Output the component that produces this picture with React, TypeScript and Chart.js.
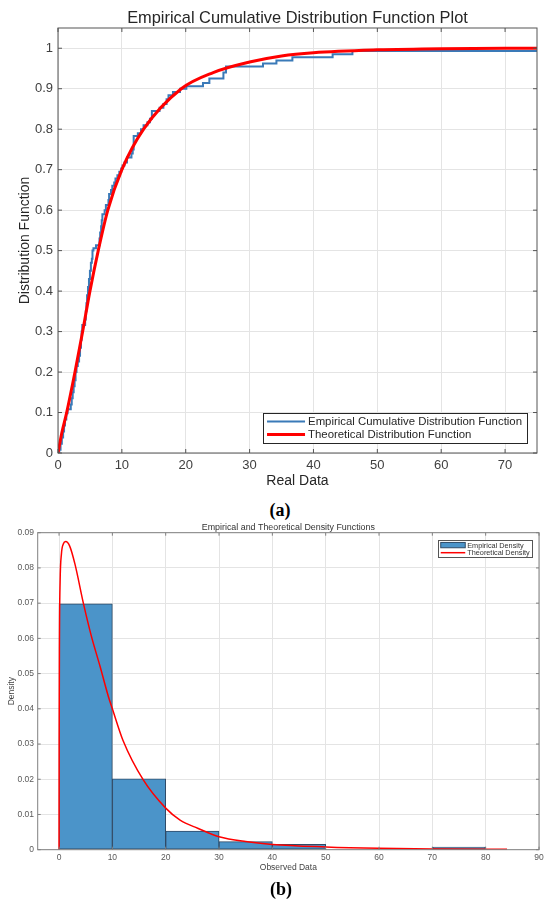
import { useEffect, useRef } from 'react';
import { Chart, registerables } from 'chart.js';

Chart.register(...registerables);

const FONT = '"Liberation Sans", Arial, Helvetica, sans-serif';

// ---------- (a) Empirical CDF vs theoretical CDF ----------
const ecdfX = [0, 0.2, 0.4, 0.6, 0.8, 0.95, 1.1, 1.3, 1.5, 2.0, 2.15, 2.3, 2.45, 2.6, 2.75, 2.9, 3.1, 3.3, 3.45, 3.6, 3.7, 3.8, 4.25, 4.35, 4.45, 4.55, 4.7, 4.85, 5.0, 5.15, 5.3, 5.4, 5.55, 5.95, 6.5, 6.6, 6.75, 6.85, 6.95, 7.3, 7.5, 7.9, 8.0, 8.3, 8.5, 8.8, 9.0, 9.3, 9.6, 9.9, 10.1, 10.4, 10.8, 11.5, 11.7, 11.85, 12.5, 13.0, 13.4, 14.0, 14.4, 14.7, 15.9, 16.5, 17.0, 17.3, 18.0, 19.1, 20.1, 22.7, 23.7, 25.9, 26.3, 32.1, 34.2, 36.7, 43.0, 46.1, 77];
const ecdfY = [0, 0.008, 0.023, 0.038, 0.053, 0.068, 0.083, 0.098, 0.108, 0.12, 0.135, 0.15, 0.165, 0.18, 0.2, 0.215, 0.226, 0.24, 0.26, 0.28, 0.3, 0.316, 0.33, 0.35, 0.37, 0.39, 0.41, 0.43, 0.45, 0.47, 0.48, 0.5, 0.506, 0.513, 0.53, 0.545, 0.56, 0.575, 0.59, 0.6, 0.613, 0.625, 0.64, 0.65, 0.66, 0.668, 0.678, 0.686, 0.695, 0.703, 0.71, 0.718, 0.73, 0.74, 0.75, 0.783, 0.79, 0.8, 0.81, 0.817, 0.826, 0.845, 0.853, 0.862, 0.874, 0.884, 0.892, 0.9, 0.906, 0.914, 0.925, 0.94, 0.955, 0.962, 0.97, 0.978, 0.985, 0.993, 1.0];

const cdfX = [0, 0.6, 1.36, 2.66, 3.86, 5.0, 6.3, 7.8, 10, 13.4, 19.3, 24.3, 30, 35, 40, 50, 60, 75];
const cdfY = [0, 0.05, 0.1, 0.2, 0.3, 0.4, 0.5, 0.6, 0.7, 0.8, 0.9, 0.94, 0.966, 0.981, 0.989, 0.996, 0.999, 1.0];

const xTicksA = [0, 10, 20, 30, 40, 50, 60, 70];
const yTicksA = [0, 0.1, 0.2, 0.3, 0.4, 0.5, 0.6, 0.7, 0.8, 0.9, 1];
const yTickLabelsA = ['0', '0.1', '0.2', '0.3', '0.4', '0.5', '0.6', '0.7', '0.8', '0.9', '1'];

// ---------- (b) Histogram density vs theoretical density ----------
const binLeft = [0, 10, 20, 30, 40, 50, 60, 70];
const binWidth = 10;
const binDensity = [0.0698, 0.0201, 0.0053, 0.0023, 0.0015, 0, 0, 0.00077];

const pdfX = [0, 0.02, 0.08, 0.2, 0.45, 0.8, 1.25, 2, 3, 4.56, 6, 7.7, 9.25, 10, 12, 15.8, 20, 22.7, 26, 30, 35, 40, 50, 60, 70, 84];
const pdfY = [0, 0.03, 0.06, 0.076, 0.084, 0.0868, 0.0875, 0.0862, 0.081, 0.07, 0.061, 0.052, 0.0435, 0.04, 0.031, 0.0198, 0.0118, 0.0084, 0.0061, 0.0037, 0.0023, 0.0015, 0.0008, 0.0004, 0.0002, 0.0001];

const xTicksB = [0, 10, 20, 30, 40, 50, 60, 70, 80, 90];
const yTicksB = [0, 0.01, 0.02, 0.03, 0.04, 0.05, 0.06, 0.07, 0.08, 0.09];
const yTickLabelsB = ['0', '0.01', '0.02', '0.03', '0.04', '0.05', '0.06', '0.07', '0.08', '0.09'];

const BLUE_LINE = '#3a7ab8';
const RED = '#ff0000';
const BAR_FILL = '#4b94c9';
const BAR_EDGE = '#2f4a66';

// Title centred over the plot area (as MATLAB does)
const plotTitlePlugin = {
  id: 'plotTitle',
  afterDraw(chart: any, _args: any, o: any) {
    const { ctx, chartArea: a } = chart;
    ctx.save();
    ctx.font = `${o.fontSize}px ${FONT}`;
    ctx.fillStyle = o.color;
    ctx.textAlign = 'center';
    ctx.textBaseline = 'alphabetic';
    ctx.fillText(o.text, (a.left + a.right) / 2, o.baseline);
    ctx.restore();
  },
};

const framePlugin = {
  id: 'matlabFrame',
  afterDatasetsDraw(chart: any, _args: any, o: any) {
    const { ctx, chartArea: a, scales } = chart;
    ctx.save();
    ctx.strokeStyle = o.color;
    ctx.lineWidth = o.lineWidth;
    ctx.beginPath();
    const tl = o.tickLen;
    scales.x.ticks.forEach((t: any) => {
      const px = scales.x.getPixelForValue(t.value);
      ctx.moveTo(px, a.bottom);
      ctx.lineTo(px, a.bottom - tl);
      ctx.moveTo(px, a.top);
      ctx.lineTo(px, a.top + tl);
    });
    scales.y.ticks.forEach((t: any) => {
      const py = scales.y.getPixelForValue(t.value);
      ctx.moveTo(a.left, py);
      ctx.lineTo(a.left + tl, py);
      ctx.moveTo(a.right, py);
      ctx.lineTo(a.right - tl, py);
    });
    ctx.stroke();
    ctx.strokeRect(a.left, a.top, a.right - a.left, a.bottom - a.top);
    ctx.restore();
  },
};

const boxLegendPlugin = {
  id: 'boxLegend',
  afterDraw(chart: any, _args: any, o: any) {
    const { ctx, chartArea: a } = chart;
    const datasets = chart.data.datasets;
    ctx.save();
    ctx.font = `${o.fontSize}px ${FONT}`;
    const textW = Math.max(...datasets.map((d: any) => ctx.measureText(d.label).width));
    const w = o.padLeft + o.sampleLen + o.gap + textW + o.padRight;
    const h = o.padY * 2 + o.rowH * datasets.length;
    const x = a.right - o.right - w;
    const y = o.anchor === 'bottom' ? a.bottom - o.offsetY - h : a.top + o.offsetY;
    ctx.fillStyle = '#ffffff';
    ctx.fillRect(x, y, w, h);
    ctx.strokeStyle = o.borderColor;
    ctx.lineWidth = 1;
    ctx.strokeRect(Math.round(x) + 0.5, Math.round(y) + 0.5, Math.round(w), Math.round(h));
    datasets.forEach((d: any, i: number) => {
      const cy = y + o.padY + o.rowH * (i + 0.5);
      const sx = x + o.padLeft;
      if (d.type === 'bar') {
        ctx.fillStyle = d.backgroundColor;
        ctx.fillRect(sx, cy - o.patchH / 2, o.sampleLen, o.patchH);
        ctx.strokeStyle = d.borderColor;
        ctx.lineWidth = 1;
        ctx.strokeRect(sx, cy - o.patchH / 2, o.sampleLen, o.patchH);
      } else {
        ctx.strokeStyle = d.borderColor;
        ctx.lineWidth = d.borderWidth;
        ctx.beginPath();
        ctx.moveTo(sx, cy);
        ctx.lineTo(sx + o.sampleLen, cy);
        ctx.stroke();
      }
      ctx.fillStyle = o.textColor;
      ctx.textBaseline = 'middle';
      ctx.textAlign = 'left';
      ctx.fillText(d.label, sx + o.sampleLen + o.gap, cy + 0.5);
    });
    ctx.restore();
  },
};

function makeConfigA(): any {
  return {
    type: 'line',
    data: {
      datasets: [
        {
          type: 'line',
          label: 'Empirical Cumulative Distribution Function',
          data: ecdfX.map((x, i) => ({ x, y: ecdfY[i] })),
          stepped: 'before',
          borderColor: BLUE_LINE,
          borderWidth: 2,
          pointRadius: 0,
          fill: false,
          order: 1,
        },
        {
          type: 'line',
          label: 'Theoretical Distribution Function',
          data: cdfX.map((x, i) => ({ x, y: cdfY[i] })),
          borderColor: RED,
          borderWidth: 3,
          pointRadius: 0,
          fill: false,
          cubicInterpolationMode: 'monotone',
          order: 0,
        },
      ],
    },
    options: {
      animation: false,
      responsive: true,
      maintainAspectRatio: false,
      events: [],
      layout: { padding: { left: 0, right: 13, top: 28, bottom: 0 } },
      plugins: {
        legend: { display: false },
        tooltip: { enabled: false },
        title: { display: false },
        plotTitle: { text: 'Empirical Cumulative Distribution Function Plot', fontSize: 16.4, color: '#262626', baseline: 22.5 },
        matlabFrame: { color: '#555555', lineWidth: 1, tickLen: 4 },
        boxLegend: {
          anchor: 'bottom', right: 10, offsetY: 10, fontSize: 11.4, rowH: 13, padY: 2,
          padLeft: 4, sampleLen: 38, gap: 3, padRight: 5, patchH: 6,
          borderColor: '#262626', textColor: '#262626',
        },
      },
      scales: {
        x: {
          type: 'linear',
          min: 0,
          max: 75,
          afterBuildTicks: (s: any) => { s.ticks = xTicksA.map((v) => ({ value: v })); },
          afterFit: (s: any) => { s.height = 47; },
          grid: { color: '#e4e4e4', lineWidth: 1, drawTicks: false },
          border: { display: false },
          ticks: { color: '#404040', font: { family: FONT, size: 13 }, padding: 5, maxRotation: 0, autoSkip: false },
          title: { display: true, text: 'Real Data', color: '#262626', font: { family: FONT, size: 14 }, padding: { top: 0, bottom: 10 } },
        },
        y: {
          type: 'linear',
          min: 0,
          max: 1.05,
          afterBuildTicks: (s: any) => { s.ticks = yTicksA.map((v) => ({ value: v })); },
          afterFit: (s: any) => { s.width = 58; },
          grid: { color: '#e4e4e4', lineWidth: 1, drawTicks: false },
          border: { display: false },
          ticks: { color: '#404040', font: { family: FONT, size: 13 }, padding: 5, autoSkip: false, callback: (_v: any, i: number) => yTickLabelsA[i] },
          title: { display: true, text: 'Distribution Function', color: '#262626', font: { family: FONT, size: 14 }, padding: { top: 16.6, bottom: 0 } },
        },
      },
    },
    plugins: [framePlugin, boxLegendPlugin, plotTitlePlugin],
  };
}

function makeConfigB(): any {
  const bars = binLeft
    .map((l, i) => ({ x: l + binWidth / 2, y: binDensity[i] }))
    .filter((p) => p.y > 0);
  return {
    type: 'bar',
    data: {
      datasets: [
        {
          type: 'bar',
          label: 'Empirical Density',
          data: bars,
          backgroundColor: BAR_FILL,
          borderColor: BAR_EDGE,
          borderWidth: 1,
          borderSkipped: false,
          barPercentage: 1,
          categoryPercentage: 1,
          order: 1,
        },
        {
          type: 'line',
          label: 'Theoretical Density',
          data: pdfX.map((x, i) => ({ x, y: pdfY[i] })),
          borderColor: RED,
          borderWidth: 1.5,
          pointRadius: 0,
          fill: false,
          cubicInterpolationMode: 'monotone',
          order: 0,
        },
      ],
    },
    options: {
      animation: false,
      responsive: true,
      maintainAspectRatio: false,
      events: [],
      layout: { padding: { left: 0, right: 11, top: 17.7, bottom: 0 } },
      plugins: {
        legend: { display: false },
        tooltip: { enabled: false },
        title: { display: false },
        plotTitle: { text: 'Empirical and Theoretical Density Functions', fontSize: 8.9, color: '#333333', baseline: 15 },
        matlabFrame: { color: '#808080', lineWidth: 1, tickLen: 3 },
        boxLegend: {
          anchor: 'top', right: 6.3, offsetY: 7.5, fontSize: 7.3, rowH: 7.6, padY: 1.1,
          padLeft: 2.5, sampleLen: 24.5, gap: 2, padRight: 3, patchH: 5.3,
          borderColor: '#555555', textColor: '#333333',
        },
      },
      scales: {
        x: {
          type: 'linear',
          min: -4,
          max: 90,
          offset: false,
          afterBuildTicks: (s: any) => { s.ticks = xTicksB.map((v) => ({ value: v })); },
          afterFit: (s: any) => { s.height = 35.3; },
          grid: { color: '#e4e4e4', lineWidth: 1, drawTicks: false, offset: false },
          border: { display: false },
          ticks: { color: '#595959', font: { family: FONT, size: 8.5 }, padding: 2.9, maxRotation: 0, autoSkip: false },
          title: { display: true, text: 'Observed Data', color: '#444444', font: { family: FONT, size: 8.5 }, padding: { top: 0, bottom: 12.2 } },
        },
        y: {
          type: 'linear',
          min: 0,
          max: 0.09,
          afterBuildTicks: (s: any) => { s.ticks = yTicksB.map((v) => ({ value: v })); },
          afterFit: (s: any) => { s.width = 37.7; },
          grid: { color: '#e4e4e4', lineWidth: 1, drawTicks: false },
          border: { display: false },
          ticks: { color: '#595959', font: { family: FONT, size: 8.5 }, padding: 3.7, autoSkip: false, callback: (_v: any, i: number) => yTickLabelsB[i] },
          title: { display: true, text: 'Density', color: '#444444', font: { family: FONT, size: 8.5 }, padding: { top: 6.9, bottom: 0 } },
        },
      },
    },
    plugins: [framePlugin, boxLegendPlugin, plotTitlePlugin],
  };
}

export default function App() {
  const refA = useRef<HTMLCanvasElement | null>(null);
  const refB = useRef<HTMLCanvasElement | null>(null);

  useEffect(() => {
    const ca = new Chart(refA.current as HTMLCanvasElement, makeConfigA());
    const cb = new Chart(refB.current as HTMLCanvasElement, makeConfigB());
    return () => {
      ca.destroy();
      cb.destroy();
    };
  }, []);

  const labelStyle: any = {
    position: 'absolute',
    left: 0,
    width: 560,
    textAlign: 'center',
    fontFamily: '"Liberation Serif", "Times New Roman", serif',
    fontWeight: 'bold',
    fontSize: 18,
    lineHeight: '20px',
    color: '#000',
  };

  return (
    <div style={{ position: 'absolute', left: 0, top: 0, width: 550, height: 905, background: '#ffffff', overflow: 'hidden' }}>
      <div style={{ position: 'absolute', left: 0, top: 0, width: 550, height: 500 }}>
        <canvas ref={refA} />
      </div>
      <div style={{ ...labelStyle, top: 500 }}>(a)</div>
      <div style={{ position: 'absolute', left: 0, top: 515, width: 550, height: 370 }}>
        <canvas ref={refB} />
      </div>
      <div style={{ ...labelStyle, width: 562, top: 879 }}>(b)</div>
    </div>
  );
}
